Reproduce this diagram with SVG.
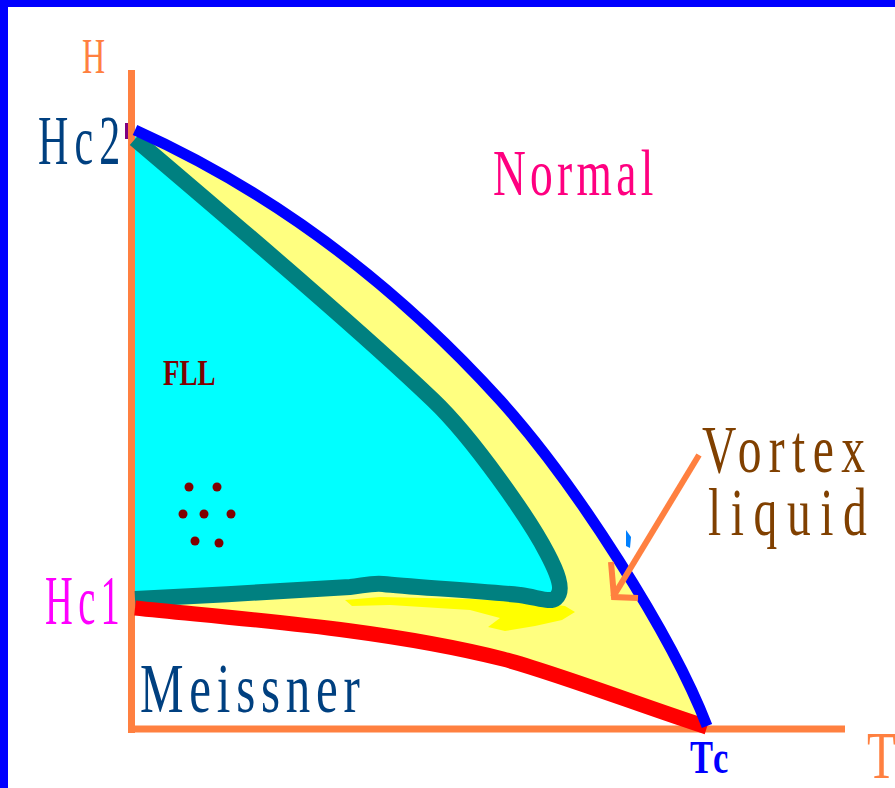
<svg xmlns="http://www.w3.org/2000/svg" width="895" height="788" viewBox="0 0 895 788">
<style>
  .lbl { font-family: "Liberation Serif", "DejaVu Serif", serif; }
  .axis { stroke: #FF8040; stroke-width: 7; fill: none; }
  .curve { fill: none; stroke-linecap: butt; stroke-linejoin: round; }
</style>
<rect x="0" y="0" width="895" height="788" fill="#FFFFFF"/>
<g id="border">
  <rect x="0" y="0" width="895" height="7" fill="#0000FF"/>
  <rect x="0" y="0" width="8" height="788" fill="#0000FF"/>
</g>
<g id="vortex-liquid-region">
  <path d="M131,128 L135,130 C255,184 380,268 500,400 C575,483 672,635 707,727 C645,707 553,672 503,659 C383,629 251,620 131,608 Z" fill="#FFFF80"/>
  <path d="M345,600 L380,597 L470,599 L530,602 L565,606 L575,612 L562,620 L535,626 L505,631 L488,627 L500,618 L470,610 L390,605 L352,606 Z" fill="#FFFF00"/>
</g>
<g id="fll-region">
  <path d="M131,133 L137,138 C230,220 360,330 433,400 C473,438 530,520 547,553 C556,570 565,590 556,598 C550,603 540,598 520,595 C470,590 410,587 383,584 C370,583 362,586 350,587 C300,590 200,596 131,599 Z" fill="#00FFFF"/>
</g>
<g id="axes">
  <line class="axis" x1="131.5" y1="70" x2="131.5" y2="733"/>
  <line class="axis" x1="128" y1="729" x2="845" y2="729" stroke-width="6"/>
</g>
<g id="connectors">
  <path class="curve" d="M135,139 C230,220 360,330 433,400 C473,438 530,520 547,553 C556,570 565,590 556,598 C550,603 540,598 520,595 C470,590 410,587 383,584 C370,583 362,586 350,587 C300,590 200,596 135,599" stroke="#008080" stroke-width="16"/>
  <path class="curve" d="M135,608 C251,620 383,629 503,659 C553,672 645,707 707,727" stroke="#FF0000" stroke-width="15"/>
  <path class="curve" d="M135,130 C255,184 380,268 500,400 C575,483 672,635 707,726" stroke="#0000FF" stroke-width="11"/>
  <rect x="125" y="123" width="3" height="16" fill="#800080"/>
  <path d="M626,530 L631,537 L630,548 L626,546 Z" fill="#0080FF"/>
  <path d="M699,455 L613,597" stroke="#FF8040" stroke-width="6" fill="none"/>
  <path d="M611,562 L614,597 L638,598" stroke="#FF8040" stroke-width="6" fill="none" stroke-linejoin="miter"/>
</g>
<g id="dots" fill="#800000">
  <circle cx="189" cy="487" r="4.5"/>
  <circle cx="217" cy="487" r="4.5"/>
  <circle cx="183" cy="514" r="4.5"/>
  <circle cx="204" cy="514" r="4.5"/>
  <circle cx="231" cy="514" r="4.5"/>
  <circle cx="195" cy="541" r="4.5"/>
  <circle cx="219" cy="543" r="4.5"/>
</g>
<g id="labels">
  <text class="lbl" transform="translate(82,73) scale(0.64,1)" font-size="50" fill="#FF8040">H</text>
  <text class="lbl" transform="translate(38,164) scale(0.6,1)" font-size="70" fill="#004080" textLength="137" lengthAdjust="spacing">Hc2</text>
  <text class="lbl" transform="translate(493,195) scale(0.7,1)" font-size="65" fill="#FF0080" textLength="229" lengthAdjust="spacing">Normal</text>
  <text class="lbl" transform="translate(163,385) scale(0.75,1)" font-size="36" font-weight="bold" fill="#800000">FLL</text>
  <text class="lbl" transform="translate(45,624) scale(0.55,1)" font-size="70" fill="#FF00FF" textLength="136" lengthAdjust="spacing">Hc1</text>
  <text class="lbl" transform="translate(140,712) scale(0.7,1)" font-size="70" fill="#004080" textLength="314" lengthAdjust="spacing">Meissner</text>
  <text class="lbl" transform="translate(702,472) scale(0.7,1)" font-size="68" fill="#804000" textLength="233" lengthAdjust="spacing">Vortex</text>
  <text class="lbl" transform="translate(708,535) scale(0.7,1)" font-size="68" fill="#804000" textLength="227" lengthAdjust="spacing">liquid</text>
  <text class="lbl" transform="translate(690,773) scale(0.75,1)" font-size="46" font-weight="bold" fill="#0000FF" textLength="51" lengthAdjust="spacing">Tc</text>
  <text class="lbl" transform="translate(867,778) scale(0.7,1)" font-size="68" fill="#FF8040">T</text>
</g>
</svg>
